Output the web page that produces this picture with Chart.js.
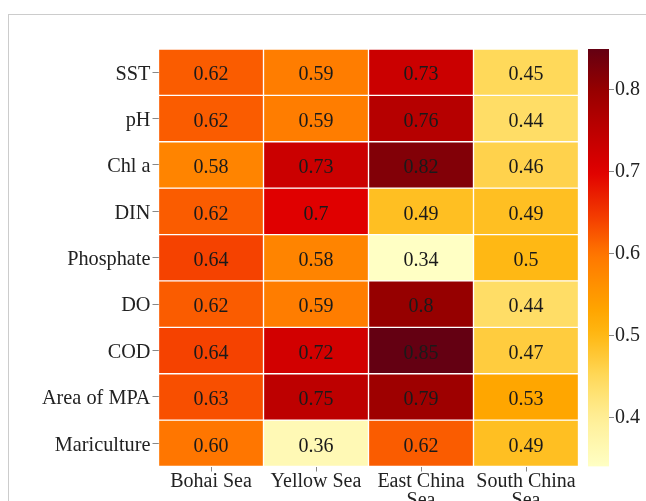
<!DOCTYPE html>
<html>
<head>
<meta charset="utf-8">
<script src="https://cdn.jsdelivr.net/npm/chart.js@4"></script>
<style>
  html, body { margin: 0; padding: 0; background: #fff; overflow: hidden; width: 646px; height: 501px; }
  #frame { position: absolute; left: 8px; top: 14px; width: 700px; height: 600px; border: 1px solid #cccccc; }
  canvas { position: absolute; left: 0; top: 0; }
  .probe { font-family: "Liberation Serif"; position: absolute; left: -999px; }
</style>
</head>
<body>
<div id="frame"></div>
<span class="probe">Sea 0.1</span>
<canvas id="heatmap" width="646" height="540"></canvas>
<canvas id="colorbar" width="646" height="540"></canvas>
<script>
const seas = ["Bohai Sea", "Yellow Sea", ["East China", "Sea"], ["South China", "Sea"]];
const indicators = ["SST", "pH", "Chl a", "DIN", "Phosphate", "DO", "COD", "Area of MPA", "Mariculture"];

// values per indicator, in the order of seas (text as printed in the cells)
const sst = ["0.62", "0.59", "0.73", "0.45"];
const ph = ["0.62", "0.59", "0.76", "0.44"];
const chla = ["0.58", "0.73", "0.82", "0.46"];
const din = ["0.62", "0.7", "0.49", "0.49"];
const phosphate = ["0.64", "0.58", "0.34", "0.5"];
const dissolvedOxygen = ["0.62", "0.59", "0.8", "0.44"];
const cod = ["0.64", "0.72", "0.85", "0.47"];
const areaMpa = ["0.63", "0.75", "0.79", "0.53"];
const mariculture = ["0.60", "0.36", "0.62", "0.49"];

const colorbarTicks = [0.4, 0.5, 0.6, 0.7, 0.8];
const valueMin = 0.34;
const valueMax = 0.85;

const rows = [sst, ph, chla, din, phosphate, dissolvedOxygen, cod, areaMpa, mariculture];

const colorStops = [
    [0.34, [255, 255, 196]],
    [0.40, [255, 238, 150]],
    [0.45, [255, 217, 90]],
    [0.50, [255, 184, 20]],
    [0.53, [255, 166, 0]],
    [0.60, [255, 118, 0]],
    [0.64, [245, 66, 0]],
    [0.70, [224, 0, 0]],
    [0.76, [182, 0, 0]],
    [0.80, [150, 0, 0]],
    [0.85, [100, 0, 18]],
];

function heatColor(v) {
    if (v <= colorStops[0][0]) return "rgb(" + colorStops[0][1].join(",") + ")";
    for (let i = 1; i < colorStops.length; i++) {
        if (v <= colorStops[i][0]) {
            const a = colorStops[i - 1], b = colorStops[i];
            const t = (v - a[0]) / (b[0] - a[0]);
            const c = a[1].map((x, k) => Math.round(x + (b[1][k] - x) * t));
            return "rgb(" + c.join(",") + ")";
        }
    }
    return "rgb(" + colorStops[colorStops.length - 1][1].join(",") + ")";
}

const fontFamily = '"Liberation Serif", "Times New Roman", serif';

const cellLabels = {
    id: "cellLabels",
    afterDatasetsDraw(chart) {
        const ctx = chart.ctx;
        ctx.save();
        ctx.font = "20px " + fontFamily;
        ctx.fillStyle = "#1a1a1a";
        ctx.textAlign = "center";
        ctx.textBaseline = "middle";
        chart.data.datasets.forEach((ds, i) => {
            chart.getDatasetMeta(i).data.forEach((bar, j) => {
                ctx.fillText(ds.texts[j], bar.x, (bar.y + bar.base) / 2 + 3);
            });
        });
        ctx.restore();
    },
};

function drawCharts() {
    Chart.defaults.font.family = fontFamily;
    Chart.defaults.font.size = 20;
    Chart.defaults.color = "#222";

    const datasetsHeatmap = rows.map((row, i) => ({
        label: indicators[i],
        data: row.map(() => 1),
        texts: row,
        backgroundColor: row.map((v) => heatColor(Number(v))),
        borderColor: "rgba(255,255,255,0.55)",
        borderWidth: 1,
        borderSkipped: false,
        barPercentage: 1,
        categoryPercentage: 1,
    }));

    new Chart(document.getElementById("heatmap"), {
        type: "bar",
        data: { labels: seas, datasets: datasetsHeatmap },
        options: {
            responsive: false,
            animation: false,
            devicePixelRatio: 1,
            layout: { padding: { left: 0, top: 49, right: 67.5, bottom: 0 } },
            plugins: { legend: { display: false }, tooltip: { enabled: false } },
            scales: {
                x: {
                    stacked: true,
                    grid: { drawOnChartArea: false, offset: false, tickLength: 5, color: "#888" },
                    border: { display: false },
                    ticks: { padding: 1, maxRotation: 0, autoSkip: false, font: { size: 20, lineHeight: 0.95 } },
                    afterFit: (scale) => { scale.height = 540 - 466.5; },
                },
                y: {
                    stacked: true,
                    reverse: true,
                    min: 0,
                    max: indicators.length,
                    grid: { drawOnChartArea: false, tickLength: 6, color: "#888" },
                    border: { display: false },
                    afterBuildTicks: (scale) => {
                        scale.ticks = indicators.map((_, i) => ({ value: i + 0.5 }));
                    },
                    ticks: {
                        padding: 2,
                        labelOffset: 2,
                        font: { size: 20.3 },
                        callback: (value, index) => indicators[index],
                    },
                    afterFit: (scale) => { scale.width = 158.5; },
                },
            },
        },
        plugins: [cellLabels],
    });

    new Chart(document.getElementById("colorbar"), {
        type: "bar",
        data: {
            labels: ["scale"],
            datasets: [
                {
                    data: [[valueMin, valueMax]],
                    barPercentage: 1,
                    categoryPercentage: 1,
                    borderWidth: 0,
                    backgroundColor: (context) => {
                        const chart = context.chart;
                        if (!chart.chartArea) return "#fff";
                        const yScale = chart.scales.y;
                        const grad = chart.ctx.createLinearGradient(0, yScale.getPixelForValue(valueMin), 0, yScale.getPixelForValue(valueMax));
                        const n = 40;
                        for (let k = 0; k <= n; k++) {
                            grad.addColorStop(k / n, heatColor(valueMin + (valueMax - valueMin) * k / n));
                        }
                        return grad;
                    },
                },
            ],
        },
        options: {
            responsive: false,
            animation: false,
            devicePixelRatio: 1,
            layout: { padding: { left: 588, top: 49, right: 0, bottom: 540 - 466.5 } },
            plugins: { legend: { display: false }, tooltip: { enabled: false } },
            scales: {
                x: { display: false },
                y: {
                    position: "right",
                    min: valueMin,
                    max: valueMax,
                    grid: { drawOnChartArea: false, tickLength: 5, color: "#888" },
                    border: { display: false },
                    afterBuildTicks: (scale) => {
                        scale.ticks = colorbarTicks.map((v) => ({ value: v }));
                    },
                    ticks: { padding: 1, callback: (value) => value.toFixed(1) },
                    afterFit: (scale) => { scale.width = 646 - 609; },
                },
            },
        },
    });
}

document.fonts.load('20px "Liberation Serif"').then(drawCharts, drawCharts);
</script>
</body>
</html>
